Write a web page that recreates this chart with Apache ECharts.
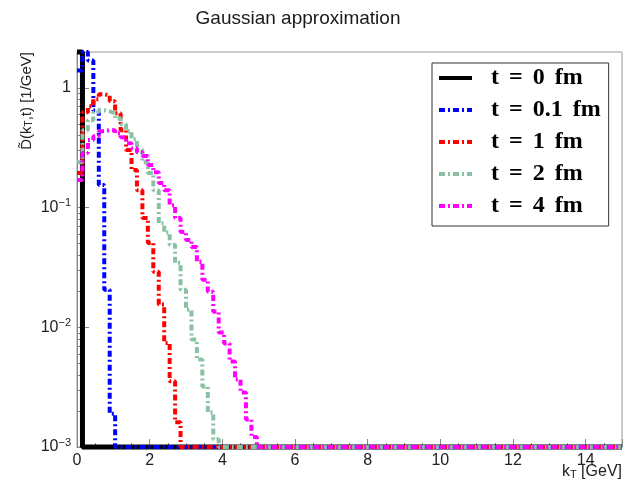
<!DOCTYPE html>
<html><head><meta charset="utf-8">
<script src="https://cdn.jsdelivr.net/npm/echarts@6/dist/echarts.min.js"></script>
<style>html,body{margin:0;padding:0;background:#fff}#c{width:623px;height:487px}</style>
</head><body><div id="c"></div>
<script>
// ---- data: histogram bin contents, bins of width 0.15 GeV starting at kT = 0 ----
// (bins beyond each list are empty)
const BIN_WIDTH = 0.15;
const N_BINS = 100;
const seriesNames = ['t = 0 fm', 't = 0.1 fm', 't = 1 fm', 't = 2 fm', 't = 4 fm'];
const seriesColors = ['#000000', '#0000ff', '#ff0000', '#88c2a3', '#ff00ff'];
const t0fm = [50];
const t01fm = [1.40, 2.4, 1.70, 0.65, 0.155, 0.0206, 0.0019];
const t1fm = [0.195, 0.627, 0.704, 0.805, 0.886, 0.869, 0.775, 0.616, 0.444, 0.303, 0.206, 0.140,
  0.082, 0.0508, 0.0291, 0.0155, 0.0074, 0.00354, 0.00161];
const t2fm = [0.240, 0.444, 0.538, 0.627, 0.652, 0.639, 0.616, 0.559, 0.498, 0.436, 0.374, 0.303,
  0.240, 0.195, 0.140, 0.074, 0.062, 0.0489, 0.0346, 0.0206, 0.01405, 0.0079, 0.00538, 0.0032,
  0.00195, 0.00116];
const t4fm = [0.170, 0.286, 0.367, 0.396, 0.436, 0.444, 0.444, 0.419, 0.388, 0.346, 0.314, 0.291,
  0.270, 0.227, 0.198, 0.161, 0.140, 0.105, 0.082, 0.0627, 0.0538, 0.047, 0.0353, 0.0250, 0.0198,
  0.0135, 0.00904, 0.00731, 0.00518, 0.00367, 0.00286, 0.00170, 0.00121];
const seriesValues = [t0fm, t01fm, t1fm, t2fm, t4fm];

// ---- axes ----
const X_MIN = 0, X_MAX = 15, X_INTERVAL = 2;
const Y_MIN = 0.001, Y_MAX = 2;
const yTickValues = [0.001, 0.01, 0.1, 1];
const yTickLabels = ['10{sup|\u22123}', '10{sup|\u22122}', '10{sup|\u22121}', '1'];
const yMinorTicks = [0.002, 0.003, 0.004, 0.005, 0.006, 0.007, 0.008, 0.009,
  0.02, 0.03, 0.04, 0.05, 0.06, 0.07, 0.08, 0.09,
  0.2, 0.3, 0.4, 0.5, 0.6, 0.7, 0.8, 0.9];

const FONT = 'Liberation Sans, Arial, sans-serif';

function histPoints(vals) {
  const pts = [];
  for (let i = 0; i < N_BINS; i++) {
    let v = i < vals.length ? vals[i] : 0;
    // ROOT draws empty bins at the floor and clips at the frame top
    v = Math.min(Math.max(v, Y_MIN), Y_MAX);
    pts.push([i * BIN_WIDTH, v], [(i + 1) * BIN_WIDTH, v]);
  }
  return pts;
}

const series = seriesNames.map((name, k) => ({
  name,
  type: 'line',
  data: histPoints(seriesValues[k]),
  symbol: 'none',
  showSymbol: false,
  clip: false,
  animation: false,
  color: seriesColors[k],
  lineStyle: {
    color: seriesColors[k],
    width: k === 0 ? 5 : 4,
    type: k === 0 ? 'solid' : [6, 3, 2, 3],
    cap: 'butt'
  },
  z: 2 + k
}));

const chart = echarts.init(document.getElementById('c'), null, {renderer: 'canvas'});
chart.setOption({
  animation: false,
  backgroundColor: '#fff',
  title: {
    text: 'Gaussian approximation',
    left: 293, top: 4, textAlign: 'center',
    textStyle: {fontFamily: FONT, fontSize: 19, fontWeight: 'normal', color: '#1a1a1a'}
  },
  grid: {left: 77, right: 1, top: 52, bottom: 40, show: true, borderColor: '#999', borderWidth: 1,
    backgroundColor: 'transparent'},
  legend: {
    orient: 'vertical', left: 432, top: 63,
    padding: [3, 8, 8, 5], itemGap: 8, itemWidth: 33, itemHeight: 14,
    backgroundColor: '#fff', borderColor: '#333', borderWidth: 1,
    data: seriesNames,
    itemStyle: {opacity: 0},
    lineStyle: {width: 4},
    textStyle: {fontFamily: 'Liberation Serif, Times New Roman, serif', fontWeight: 'bold',
      fontSize: 24, color: '#000', lineHeight: 24, padding: [0, 0, 0, 14]},
    formatter: (name) => name.replace(/ /g, ' \u2006')
  },
  xAxis: {
    type: 'value', min: X_MIN, max: X_MAX, interval: X_INTERVAL,
    axisLine: {show: true, lineStyle: {color: '#888', width: 1}},
    axisTick: {show: true, inside: true, length: 8, lineStyle: {color: '#888'}},
    minorTick: {show: true, splitNumber: 4, length: 4, lineStyle: {color: '#888'}},
    splitLine: {show: false},
    axisLabel: {fontFamily: FONT, fontSize: 16, color: '#222', margin: 6, showMaxLabel: false}
  },
  yAxis: [{
    type: 'log', logBase: 10, min: Y_MIN, max: Y_MAX,
    axisLine: {show: true, lineStyle: {color: '#888', width: 1}},
    axisTick: {show: true, inside: true, length: 12, customValues: yTickValues, lineStyle: {color: '#888'}},
    splitLine: {show: false},
    axisLabel: {
      customValues: yTickValues,
      fontFamily: FONT, fontSize: 16, color: '#222', margin: 6, lineHeight: 20,
      formatter: (v) => {
        const i = yTickValues.findIndex(t => Math.abs(Math.log10(t) - Math.log10(v)) < 1e-6);
        return i >= 0 ? yTickLabels[i] : '';
      },
      rich: {sup: {fontFamily: FONT, fontSize: 11, color: '#222', lineHeight: 11, verticalAlign: 'top'}}
    }
  }, {
    type: 'log', logBase: 10, min: Y_MIN, max: Y_MAX, position: 'left',
    axisLine: {show: false},
    axisTick: {show: true, inside: true, length: 6, customValues: yMinorTicks, lineStyle: {color: '#888'}},
    axisLabel: {show: false},
    splitLine: {show: false}
  }],
  graphic: [{
    type: 'text', x: 27, y: 52, rotation: Math.PI / 2,
    style: {
      text: 'D\u0303(k{sub|T},t) [1/GeV]', align: 'right', verticalAlign: 'middle',
      font: '15px ' + FONT, fill: '#222',
      rich: {sub: {fontSize: 10, fontFamily: FONT, fill: '#222', verticalAlign: 'bottom', lineHeight: 10}}
    }
  }, {
    type: 'text', x: 622, y: 472,
    style: {
      text: 'k{sub|T} [GeV]', align: 'right', verticalAlign: 'middle',
      font: '16px ' + FONT, fill: '#222',
      rich: {sub: {fontSize: 11, fontFamily: FONT, fill: '#222', verticalAlign: 'bottom', lineHeight: 11}}
    }
  }],
  series
});
</script></body></html>
